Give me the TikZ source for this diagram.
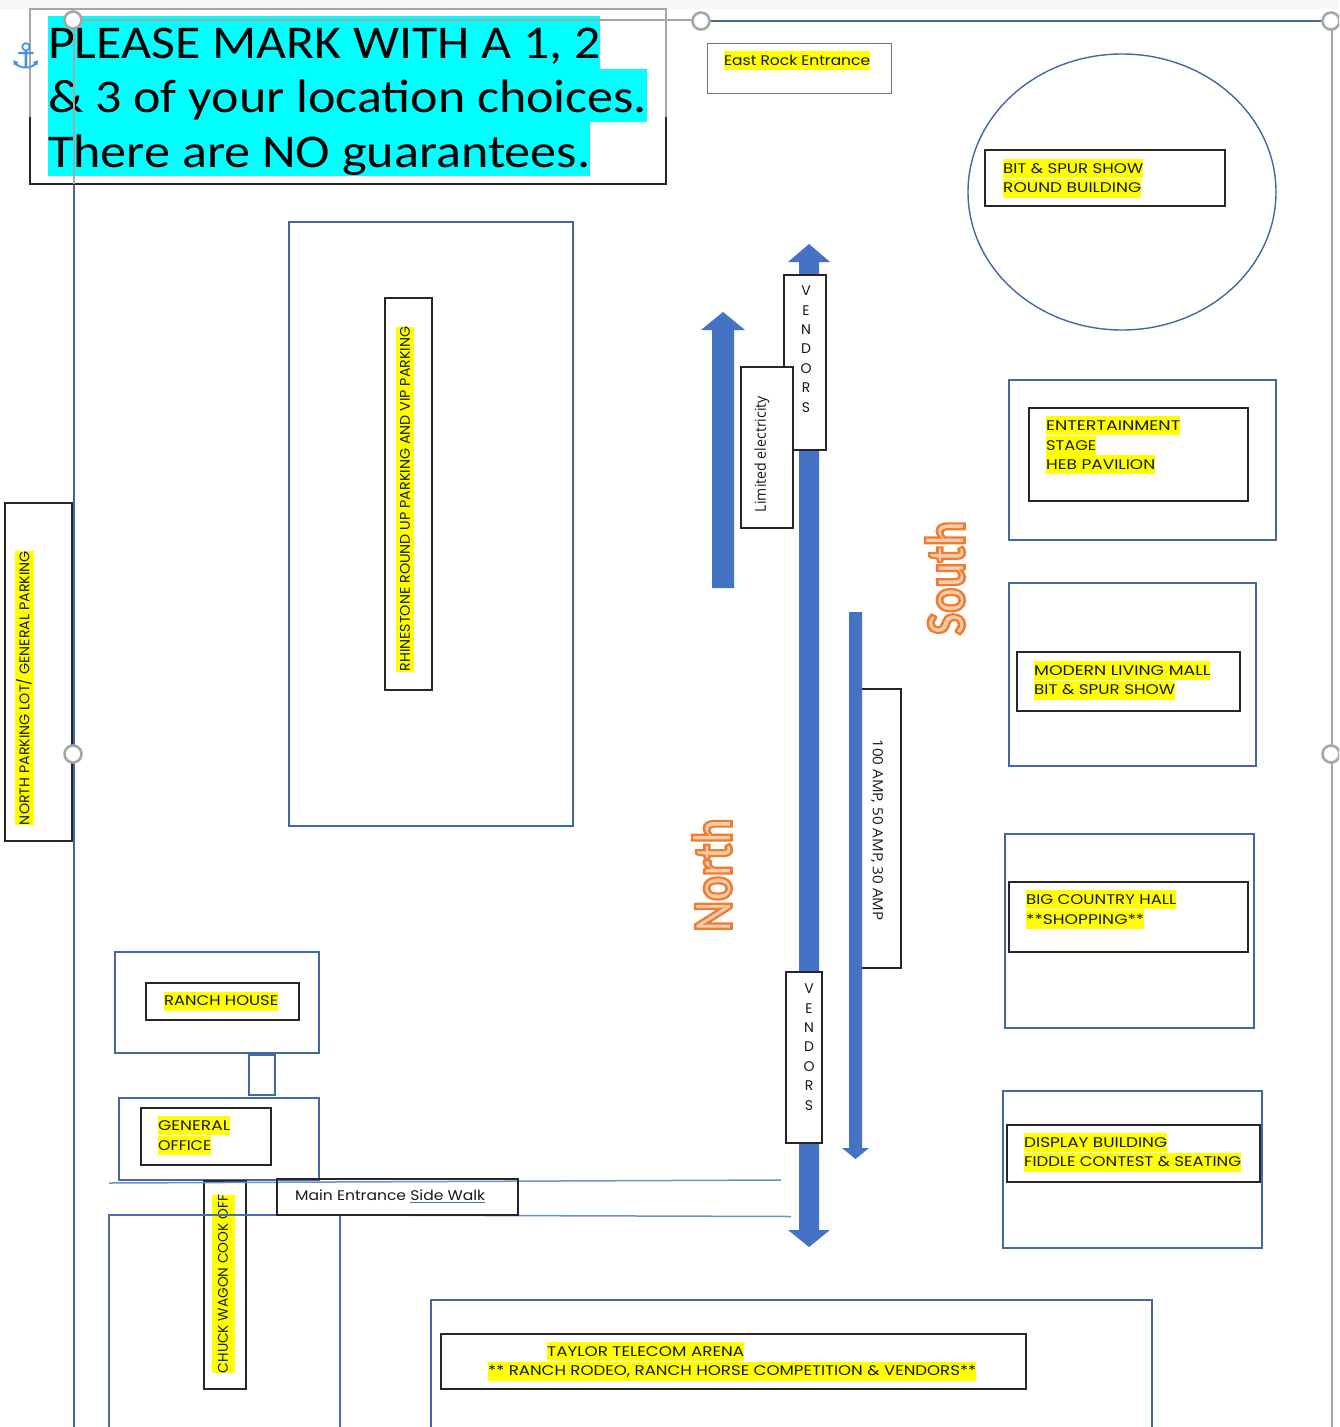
\documentclass[tikz,border=0pt]{standalone}
\usepackage{fontspec}
\setmainfont{Poppins}
\newfontfamily\crlt{Carlito}
\newfontfamily\osans{Open Sans}
\newfontfamily\djv{DejaVu Sans}
\definecolor{frameblue}{HTML}{44689F}
\definecolor{arrowblue}{HTML}{4472C4}
\definecolor{lineblue}{HTML}{6E90D2}
\definecolor{handle}{HTML}{A6A6A6}
\definecolor{boxblack}{HTML}{262626}
\definecolor{anchorblue}{HTML}{4A90D9}
\definecolor{hlyellow}{HTML}{FFFF00}
\definecolor{hlcyan}{HTML}{00FFFF}
\tikzset{
  x=1pt,y=-1pt,
  bluebox/.style={draw=frameblue,line width=1.4pt},
  blackbox/.style={draw=boxblack,line width=1.4pt,fill=white},
  grip/.style={circle,draw=handle,fill=white,line width=2.6pt,minimum size=17pt,inner sep=0pt},
  hl/.style={fill=hlyellow,inner xsep=0pt,inner ysep=0pt,minimum height=19pt,text=black!90,font=\fontsize{14}{14}\selectfont},
  hlr/.style={hl,rotate=90},
  cy/.style={fill=hlcyan,inner xsep=0pt,inner ysep=0pt,anchor=west,text=black,font=\crlt\fontsize{47}{47}\selectfont},
  plain/.style={inner sep=0pt,text=black!90},
  letters/.style={plain,align=center,font=\fontsize{14}{19.4}\selectfont},
  compass/.style={inner sep=0pt,rotate=90,font=\crlt\bfseries\fontsize{56}{56}\selectfont},
}
% #1 name, #2 left x, #3 centre y, #4 width, #5 text
\newcommand{\hlt}[5]{\node[hl,anchor=west] (#1) at (#2,#3) {\resizebox{#4pt}{\height}{#5}};}
% #1 name, #2 centre x, #3 centre y, #4 length, #5 thickness, #6 text
\newcommand{\hlv}[6]{\node[hlr,minimum height=#5pt] (#1) at (#2,#3) {\resizebox{#4pt}{\height}{#6}};}
\newcommand{\outlined}[1]{\special{pdf:code q 2 Tr 2.6 w 0.93 0.49 0.19 RG 0.97 0.80 0.68 rg}#1\special{pdf:code Q}}
\begin{document}
\begin{tikzpicture}
\useasboundingbox (0,0) rectangle (1339,1427);
\clip (0,0) rectangle (1339,1427);
\fill[black!3] (0,0) rectangle (1339,9);
\fill[white] (0,9) rectangle (1339,1427);

% page frame
\draw[frameblue,line width=1.8pt] (74,184) -- (74,1427);
\draw[frameblue,line width=1.8pt] (701,21) -- (1332,21);
\draw[handle,line width=1.6pt] (1332,21) -- (1332,1427);

% top notice
\draw[boxblack,line width=1.3pt] (30,117) -- (30,184) -- (666,184) -- (666,117);
\draw[handle,line width=1.2pt] (30,117) -- (30,9) -- (666,9) -- (666,117);
\node[cy,text height=42pt,text depth=11pt] (n1) at (48,42.5) {\resizebox{552pt}{\height}{PLEASE MARK WITH A 1, 2}};
\node[cy,text height=43pt,text depth=10pt] (n2) at (48,95.5) {\resizebox{599pt}{\height}{\& 3 of your location choices.}};
\node[cy,text height=45pt,text depth=9pt] (n3) at (48,149) {\resizebox{542pt}{\height}{There are NO guarantees.}};
\draw[handle,line width=1.2pt] (74,20) -- (701,20);
\draw[handle,line width=1.2pt] (74,20) -- (74,184);
\node[text=anchorblue,inner sep=0pt,font=\djv\fontsize{35}{35}\selectfont] (anc) at (26,56) {⚓};

% east rock
\draw[draw=handle!70!black,line width=1pt] (707,43) rectangle (891,93);
\hlt{east}{724}{60}{146}{East Rock Entrance}

% round building
\draw[bluebox] (1122,192) ellipse [x radius=154,y radius=138];
\draw[blackbox] (985,150) rectangle (1225,206);
\hlt{bit1}{1003}{168.5}{140}{BIT \& SPUR SHOW}
\hlt{bit2}{1003}{188}{138}{ROUND BUILDING}

% rhinestone
\draw[bluebox] (289,222) rectangle (573,826);
\draw[blackbox] (385,298) rectangle (432,690);
\hlv{rhine}{405}{499}{345}{18}{RHINESTONE ROUND UP PARKING AND VIP PARKING}

% north parking
\draw[blackbox] (5,503) rectangle (72,841);
\hlv{npark}{24}{688}{274}{19}{NORTH PARKING LOT/ GENERAL PARKING}

% arrows
\fill[arrowblue] (712,588) -- (712,330) -- (701,330) -- (723,312) -- (745,330) -- (734,330) -- (734,588) -- cycle;
\fill[arrowblue] (799,262) -- (788,262) -- (809,244) -- (830,262) -- (819,262) -- (819,1230) -- (830,1230) -- (809,1247) -- (788,1230) -- (799,1230) -- cycle;

% vendors, limited electricity
\draw[blackbox] (784,275) rectangle (826,450);
\node[letters] (v1) at (806,349) {V\\E\\N\\D\\O\\R\\S};
\draw[blackbox] (741,367) rectangle (793,528);
\node[plain,rotate=90,font=\osans\fontsize{15}{15}\selectfont] (lim) at (762,454) {\resizebox{116pt}{\height}{Limited electricity}};

% 100 amp
\draw[blackbox] (862,689) -- (901,689) -- (901,968) -- (862,968);
\fill[arrowblue] (849,612) -- (862,612) -- (862,1148) -- (869,1148) -- (855.5,1159) -- (842,1148) -- (849,1148) -- cycle;
\node[plain,rotate=-90,font=\osans\fontsize{14}{14}\selectfont] (amp) at (877,830) {\resizebox{181pt}{\height}{100 AMP, 50 AMP, 30 AMP}};

\draw[blackbox] (786,972) rectangle (822,1143);
\node[letters] (v2) at (809,1047) {V\\E\\N\\D\\O\\R\\S};

% compass words
\node[compass] (south) at (945,578) {\resizebox{114pt}{\height}{\outlined{South}}};
\node[compass] (north) at (712,875) {\resizebox{113pt}{\height}{\outlined{North}}};

% right column
\draw[bluebox] (1009,380) rectangle (1276,540);
\draw[blackbox] (1029,408) rectangle (1248,501);
\hlt{ent1}{1046}{425.5}{134}{ENTERTAINMENT}
\hlt{ent2}{1046}{445.5}{50}{STAGE}
\hlt{ent3}{1046}{464.5}{109}{HEB PAVILION}

\draw[bluebox] (1009,583) rectangle (1256,766);
\draw[blackbox] (1017,652) rectangle (1240,711);
\hlt{mod1}{1034}{670.5}{176}{MODERN LIVING MALL}
\hlt{mod2}{1034}{690}{141}{BIT \& SPUR SHOW}

\draw[bluebox] (1005,834) rectangle (1254,1028);
\draw[blackbox] (1009,882) rectangle (1248,952);
\hlt{big1}{1026}{899.5}{150}{BIG COUNTRY HALL}
\hlt{big2}{1026}{919.5}{118}{**SHOPPING**}

\draw[bluebox] (1003,1091) rectangle (1262,1248);
\draw[blackbox] (1007,1125) rectangle (1260,1182);
\hlt{dis1}{1024}{1142.5}{143}{DISPLAY BUILDING}
\hlt{dis2}{1024}{1162}{217}{FIDDLE CONTEST \& SEATING}

% arena
\draw[bluebox] (431,1427) -- (431,1300) -- (1152,1300) -- (1152,1427);
\draw[blackbox] (441,1334) rectangle (1026,1389);
\hlt{are1}{547}{1351.5}{197}{TAYLOR TELECOM ARENA}
\hlt{are2}{488}{1371}{488}{** RANCH RODEO, RANCH HORSE COMPETITION \& VENDORS**}

% ranch house and office
\draw[bluebox] (115,952) rectangle (319,1053);
\draw[blackbox] (146,983) rectangle (299,1020);
\hlt{ranch}{164}{1001}{114}{RANCH HOUSE}
\draw[bluebox] (249,1055) rectangle (275,1095);
\draw[bluebox] (119,1098) rectangle (319,1180);
\draw[blackbox] (141,1108) rectangle (271,1165);
\hlt{gen1}{158}{1125.5}{72}{GENERAL}
\hlt{gen2}{158}{1145.5}{53}{OFFICE}

% chuck wagon
\draw[blackbox] (204,1181) rectangle (246,1389);
\hlv{chuck}{223}{1284}{178}{23}{CHUCK WAGON COOK OFF}

% side walk lines and lot
\draw[lineblue,line width=1.5pt] (109,1183) -- (781,1180);
\draw[lineblue,line width=1.5pt] (340,1215) -- (791,1216.5);
\draw[frameblue!80!lineblue,line width=1.4pt] (109,1427) -- (109,1215) -- (340,1215) -- (340,1427);

% main entrance
\draw[blackbox,fill=none] (277,1179) rectangle (518,1215);
\node[plain,anchor=west,font=\fontsize{14}{14}\selectfont] (main) at (295,1195) {\resizebox{190pt}{\height}{Main Entrance Side Walk}};
\draw[arrowblue,line width=0.9pt] (410,1202.5) -- (485,1202.5);

% handles
\node[grip] (h1) at (73,20) {};
\node[grip] (h2) at (701,21) {};
\node[grip] (h3) at (73,754) {};
\node[grip] (h4) at (1331,754) {};
\node[grip] (h5) at (1331,21) {};
\end{tikzpicture}
\end{document}
